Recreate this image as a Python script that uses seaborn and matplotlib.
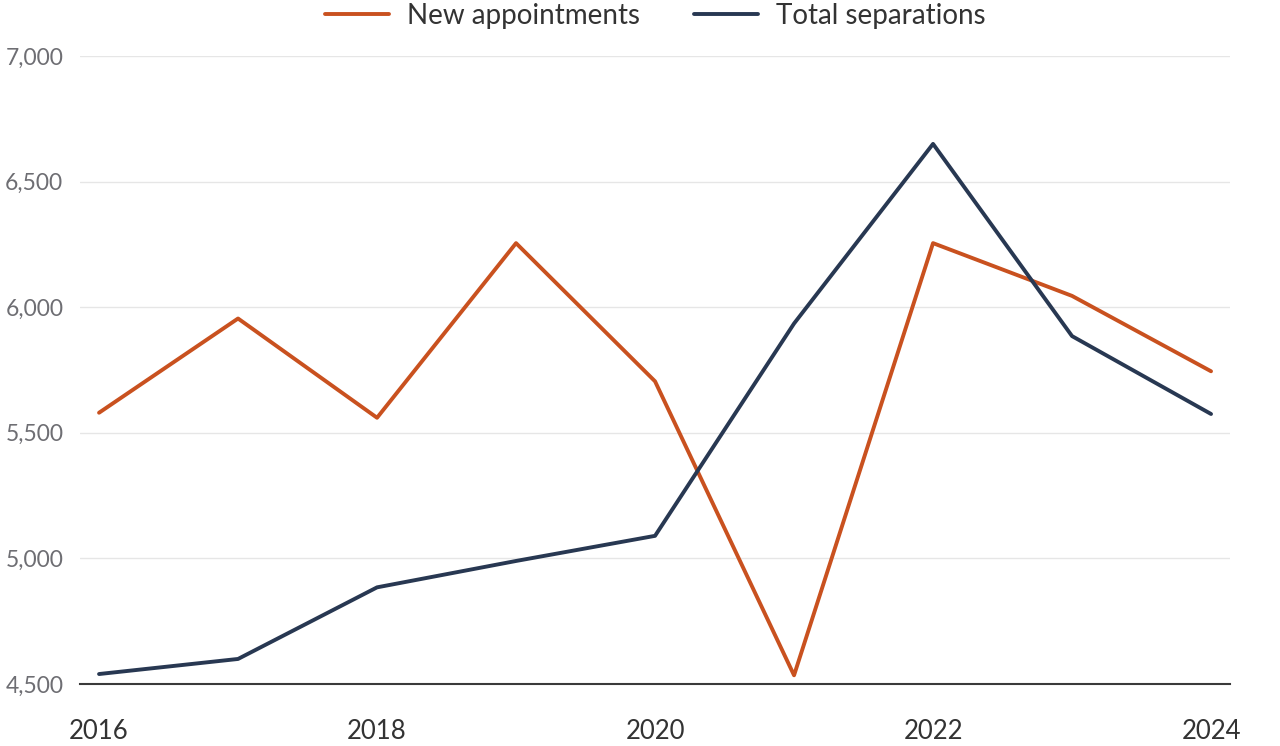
import matplotlib
matplotlib.use('Agg')
import matplotlib.pyplot as plt
import matplotlib.ticker as mticker
import pandas as pd
import seaborn as sns

years = [2016, 2017, 2018, 2019, 2020, 2021, 2022, 2023, 2024]
new_appointments = [5580, 5955, 5560, 6255, 5705, 4535, 6255, 6045, 5745]
total_separations = [4540, 4600, 4885, 4990, 5090, 5935, 6650, 5885, 5575]

df = pd.DataFrame({
    'year': years * 2,
    'value': new_appointments + total_separations,
    'series': ['New appointments'] * len(years) + ['Total separations'] * len(years),
})

sns.set_theme(style='white')
plt.rcParams['font.family'] = ['Lato', 'DejaVu Sans']

fig = plt.figure(figsize=(12.8, 7.46), dpi=100)
ax = fig.add_axes([0.0625, 0.083, 0.8985, 0.842])

palette = {'New appointments': '#c9511f', 'Total separations': '#283852'}
sns.lineplot(data=df, x='year', y='value', hue='series', palette=palette,
             linewidth=2.8, ax=ax)

ax.set_xlim(2015.863, 2024.137)
ax.set_ylim(4500, 7000)
ax.set_xticks([2016, 2018, 2020, 2022, 2024])
ax.set_yticks([4500, 5000, 5500, 6000, 6500, 7000])
ax.yaxis.set_major_formatter(mticker.FuncFormatter(lambda v, p: f'{int(v):,}'))
ax.grid(axis='y', color='#e6e6e6', linewidth=1)
ax.set_axisbelow(True)

for s in ['top', 'right', 'left']:
    ax.spines[s].set_visible(False)
ax.spines['bottom'].set_color('#3a3a3a')
ax.spines['bottom'].set_linewidth(1.5)

ax.tick_params(axis='y', length=0, labelsize=16.5, labelcolor='#6e6e73', pad=12)
ax.tick_params(axis='x', length=0, labelsize=18.5, labelcolor='#333333', pad=25)
ax.set_xlabel('')
ax.set_ylabel('')

leg = ax.legend(loc='center', bbox_to_anchor=(0.5, 1 + 40 / 628), ncol=2,
                frameon=False, fontsize=20, handlelength=2.3,
                handletextpad=0.65, columnspacing=1.95, borderaxespad=0)
for t in leg.get_texts():
    t.set_color('#333333')

fig.savefig('out.png', dpi=100)
